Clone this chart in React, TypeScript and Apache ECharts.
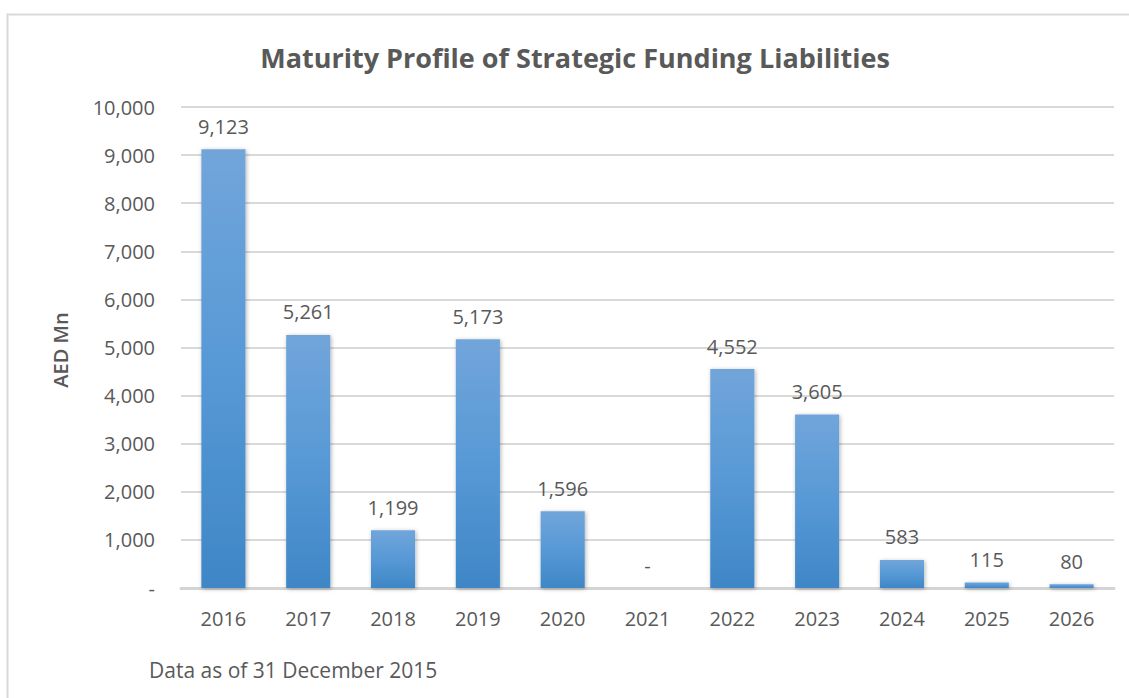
import React, { useEffect, useRef } from "react";
import * as echarts from "echarts";

const categories = ["2016", "2017", "2018", "2019", "2020", "2021", "2022", "2023", "2024", "2025", "2026"];
const values = [9123, 5261, 1199, 5173, 1596, 0, 4552, 3605, 583, 115, 80];
const yTicks = { min: 0, max: 10000, interval: 1000 };

const TITLE = "Maturity Profile of Strategic Funding Liabilities";
const Y_NAME = "AED Mn";
const FOOTER = "Data as of 31 December 2015";

const FONT = "'Open Sans', sans-serif";
const TXT = "#595959";

const fmt = (v: number) => (v === 0 ? "-" : v.toLocaleString("en-US"));

export default function App() {
  const ref = useRef<HTMLDivElement>(null);
  useEffect(() => {
    document.body.style.margin = "0";
    const chart = echarts.init(ref.current!, undefined, { renderer: "svg" });
    chart.setOption({
      animation: false,
      backgroundColor: "#ffffff",
      grid: { left: 181, right: 15, top: 107, bottom: 110 },
      xAxis: {
        type: "category",
        data: categories,
        axisTick: { show: false },
        axisLine: { show: true, lineStyle: { color: "#d4d4d4", width: 3 } },
        axisLabel: { color: TXT, fontFamily: FONT, fontSize: 20, margin: 20 },
      },
      yAxis: {
        type: "value",
        min: yTicks.min,
        max: yTicks.max,
        interval: yTicks.interval,
        axisLine: { show: false },
        axisTick: { show: false },
        splitLine: { lineStyle: { color: "#d9d9d9", width: 2 } },
        axisLabel: {
          color: TXT,
          fontFamily: FONT,
          fontSize: 20,
          margin: 26,
          formatter: (v: number) => fmt(v),
        },
      },
      series: [
        {
          type: "bar",
          data: values,
          barWidth: "52%",
          itemStyle: {
            color: new echarts.graphic.LinearGradient(0, 0, 0, 1, [
              { offset: 0, color: "#71a5da" },
              { offset: 0.5, color: "#5799d6" },
              { offset: 1, color: "#3f86c6" },
            ]),
            shadowBlur: 4,
            shadowColor: "rgba(0,0,0,0.3)",
            shadowOffsetX: 1,
            shadowOffsetY: 1,
          },
          label: {
            show: true,
            position: "top",
            distance: 13,
            color: TXT,
            fontFamily: FONT,
            fontSize: 20,
            formatter: (p: any) => fmt(p.value),
          },
        },
      ],
      graphic: [
        {
          type: "rect",
          shape: { x: 7.5, y: 14.5, width: 1200, height: 800 },
          style: { fill: "none", stroke: "#d9d9d9", lineWidth: 2 },
          silent: true,
          z: -10,
        },
        {
          type: "text",
          x: 575,
          y: 57,
          style: {
            text: TITLE,
            fill: TXT,
            font: `bold 27px ${FONT}`,
            textAlign: "center",
            textVerticalAlign: "middle",
          },
        },
        {
          type: "text",
          x: 60,
          y: 350,
          rotation: Math.PI / 2,
          style: {
            text: Y_NAME,
            fill: TXT,
            font: `600 20px ${FONT}`,
            textAlign: "center",
            textVerticalAlign: "middle",
          },
        },
        {
          type: "text",
          x: 149,
          y: 670,
          style: {
            text: FOOTER,
            fill: TXT,
            font: `21px ${FONT}`,
            textAlign: "left",
            textVerticalAlign: "middle",
          },
        },
      ],
    });
    return () => chart.dispose();
  }, []);
  return <div ref={ref} style={{ width: 1129, height: 698 }} />;
}
